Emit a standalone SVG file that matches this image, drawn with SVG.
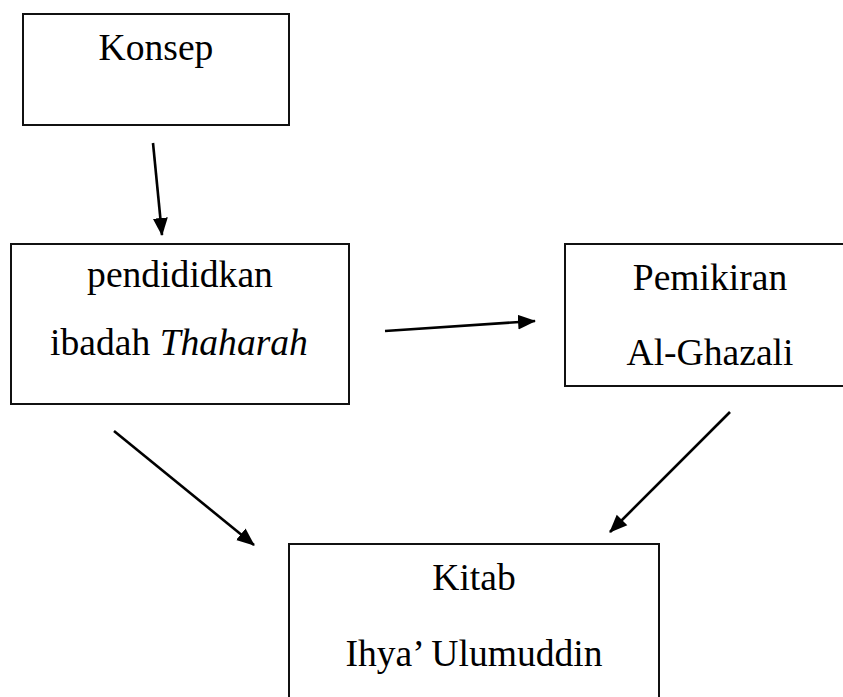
<svg xmlns="http://www.w3.org/2000/svg" width="843" height="697" viewBox="0 0 843 697">
<style>
.box{fill:#fff;stroke:#111;stroke-width:2}
.t{font-family:"Liberation Serif","Times New Roman",serif;font-size:37.6px;fill:#000;text-anchor:middle}
.c{stroke:#000;stroke-width:2.6;fill:none;marker-end:url(#ah)}
</style>
<defs>
<marker id="ah" markerWidth="18" markerHeight="18" viewBox="0 0 18 18" refX="17" refY="9" orient="auto" markerUnits="userSpaceOnUse">
<path d="M0,1.5 L18,9 L0,16.5 Z" fill="#000"/>
</marker>
</defs>
<rect width="843" height="697" fill="#fff"/>
<g id="konsep">
<rect class="box" x="23" y="14" width="266" height="111"/>
<text class="t" x="156" y="60">Konsep</text>
</g>
<g id="pendidikan">
<rect class="box" x="11" y="244" width="338" height="160"/>
<text class="t" x="180" y="287">pendididkan</text>
<text class="t" x="179" y="355">ibadah <tspan font-style="italic">Thaharah</tspan></text>
</g>
<g id="pemikiran">
<rect class="box" x="565" y="244" width="300" height="142"/>
<text class="t" x="710" y="290">Pemikiran</text>
<text class="t" x="710" y="365">Al-Ghazali</text>
</g>
<g id="kitab">
<rect class="box" x="289" y="544" width="370" height="170"/>
<text class="t" x="474" y="590">Kitab</text>
<text class="t" x="474" y="666">Ihya’ Ulumuddin</text>
</g>
<g id="connectors">
<line class="c" x1="153" y1="143" x2="162" y2="235"/>
<line class="c" x1="385" y1="331" x2="535" y2="321"/>
<line class="c" x1="114" y1="431" x2="254" y2="545"/>
<line class="c" x1="730" y1="412" x2="610" y2="532"/>
</g>
</svg>
